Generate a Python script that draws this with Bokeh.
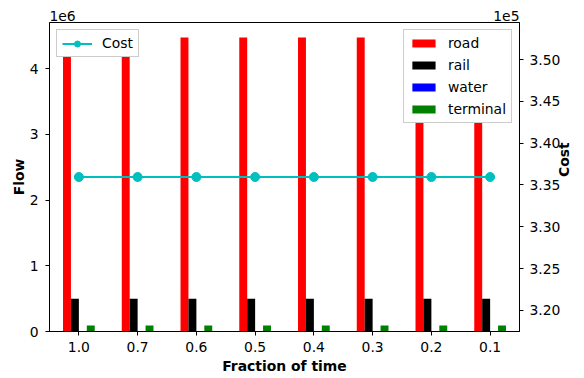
import math
import numpy as np
from bokeh.plotting import figure
from bokeh.models import (Range1d, LinearAxis, FixedTicker, CustomJSTickFormatter,
                          Legend, LegendItem)
from bokeh.embed import file_html
from bokeh.resources import INLINE

fractions = ["1.0", "0.7", "0.6", "0.5", "0.4", "0.3", "0.2", "0.1"]
road = [4.47e6, 4.47e6, 4.47e6, 4.47e6, 4.47e6, 4.47e6, 4.47e6, 4.47e6]
rail = [0.50e6, 0.50e6, 0.50e6, 0.50e6, 0.50e6, 0.50e6, 0.50e6, 0.50e6]
water = [0, 0, 0, 0, 0, 0, 0, 0]
terminal = [0.09e6, 0.09e6, 0.09e6, 0.09e6, 0.09e6, 0.09e6, 0.09e6, 0.09e6]
cost = [335950, 335950, 335950, 335950, 335950, 335950, 335950, 335950]

flow_ticks = [0, 1e6, 2e6, 3e6, 4e6]
cost_ticks = [320000, 325000, 330000, 335000, 340000, 345000, 350000]
scale_texts = ["1e6", "1e5"]   # axis multipliers (left, right)

FONT = "DejaVu Sans"
FS = "13.9px"
FW, FH = 470, 309
X0, X1 = -0.5, 7.5

x = np.arange(len(fractions))
w = 0.135

p = figure(frame_width=FW, frame_height=FH, output_backend="svg", toolbar_location=None,
           x_range=Range1d(X0, X1), y_range=Range1d(0, 4.70e6),
           min_border_left=49, min_border_top=22, min_border_right=0, min_border_bottom=47)
p.extra_y_ranges = {"cost": Range1d(317473, 354427)}
p.xgrid.visible = False
p.ygrid.visible = False
p.outline_line_color = "black"
p.outline_line_width = 1
p.outline_line_alpha = 1
p.background_fill_color = "white"
p.border_fill_color = "white"

series = [("road", road, "#ff0000", -1.5), ("rail", rail, "#000000", -0.5),
          ("water", water, "#0000ff", 0.5), ("terminal", terminal, "#008000", 1.5)]
bar_items = []
for name, vals, col, off in series:
    r = p.vbar(x=x + off * w, top=vals, bottom=0, width=w, fill_color=col, line_color=None)
    bar_items.append(LegendItem(label=name, renderers=[r]))

ln = p.line(x, cost, y_range_name="cost", line_color="#00bfbf", line_width=2)
sc = p.scatter(x, cost, y_range_name="cost", size=9, fill_color="#00bfbf", line_color="#00bfbf")

# axes
xa = p.xaxis[0]
xa.ticker = FixedTicker(ticks=list(x))
xa.major_label_overrides = {int(i): f for i, f in zip(x, fractions)}
xa.axis_label = "Fraction of time"

ya = p.yaxis[0]
ya.ticker = FixedTicker(ticks=flow_ticks)
ya.formatter = CustomJSTickFormatter(code="return (tick/1e6).toFixed(0);")
ya.axis_label = "Flow"

ra = LinearAxis(y_range_name="cost", axis_label="Cost")
ra.ticker = FixedTicker(ticks=cost_ticks)
ra.formatter = CustomJSTickFormatter(code="return (tick/1e5).toFixed(2);")
ra.axis_label_orientation = math.pi / 2
p.add_layout(ra, "right")

for ax in [xa, ya, ra]:
    ax.major_tick_in = 0
    ax.major_tick_out = 4
    ax.minor_tick_line_color = None
    ax.axis_line_color = "black"
    ax.major_tick_line_color = "black"
    ax.major_label_text_font = FONT
    ax.major_label_text_font_size = FS
    ax.major_label_text_color = "black"
    ax.major_label_standoff = 7
    ax.axis_label_text_font = FONT
    ax.axis_label_text_font_size = FS
    ax.axis_label_text_font_style = "bold"
    ax.axis_label_text_color = "black"
    ax.axis_label_standoff = 2
xa.major_label_standoff = 6
xa.axis_label_standoff = 3
ya.axis_label_standoff = 0
ra.major_label_standoff = 6
ra.axis_label_standoff = 1

# multiplier texts shown above the frame corners (as in matplotlib's offset text)
half = 13.1 * (X1 - X0) / FW   # half text width in data units
top_ticks = [X0 + half, X1 - half]
ta = LinearAxis(ticker=FixedTicker(ticks=top_ticks),
                major_label_overrides={t: s for t, s in zip(top_ticks, scale_texts)})
ta.axis_line_color = None
ta.major_tick_line_color = None
ta.minor_tick_line_color = None
ta.major_tick_out = 0
ta.major_tick_in = 0
ta.major_label_standoff = 2
ta.major_label_text_font = FONT
ta.major_label_text_font_size = FS
ta.major_label_text_color = "black"
p.add_layout(ta, "above")

# legends
def style(lg):
    lg.label_text_font = FONT
    lg.label_text_font_size = FS
    lg.label_text_color = "black"
    lg.border_line_color = "#cccccc"
    lg.border_line_alpha = 1
    lg.background_fill_alpha = 1
    lg.margin = 7
    lg.padding = 5
    lg.label_standoff = 10

lg1 = Legend(items=bar_items, location="top_right", glyph_width=29, glyph_height=10,
             label_height=15, spacing=6)
style(lg1)
lg2 = Legend(items=[LegendItem(label="Cost", renderers=[ln, sc])], location="top_left",
             glyph_width=30, glyph_height=15, label_height=15)
style(lg2)
p.add_layout(lg1)
p.add_layout(lg2)

open("out.html", "w").write(file_html(p, INLINE))
